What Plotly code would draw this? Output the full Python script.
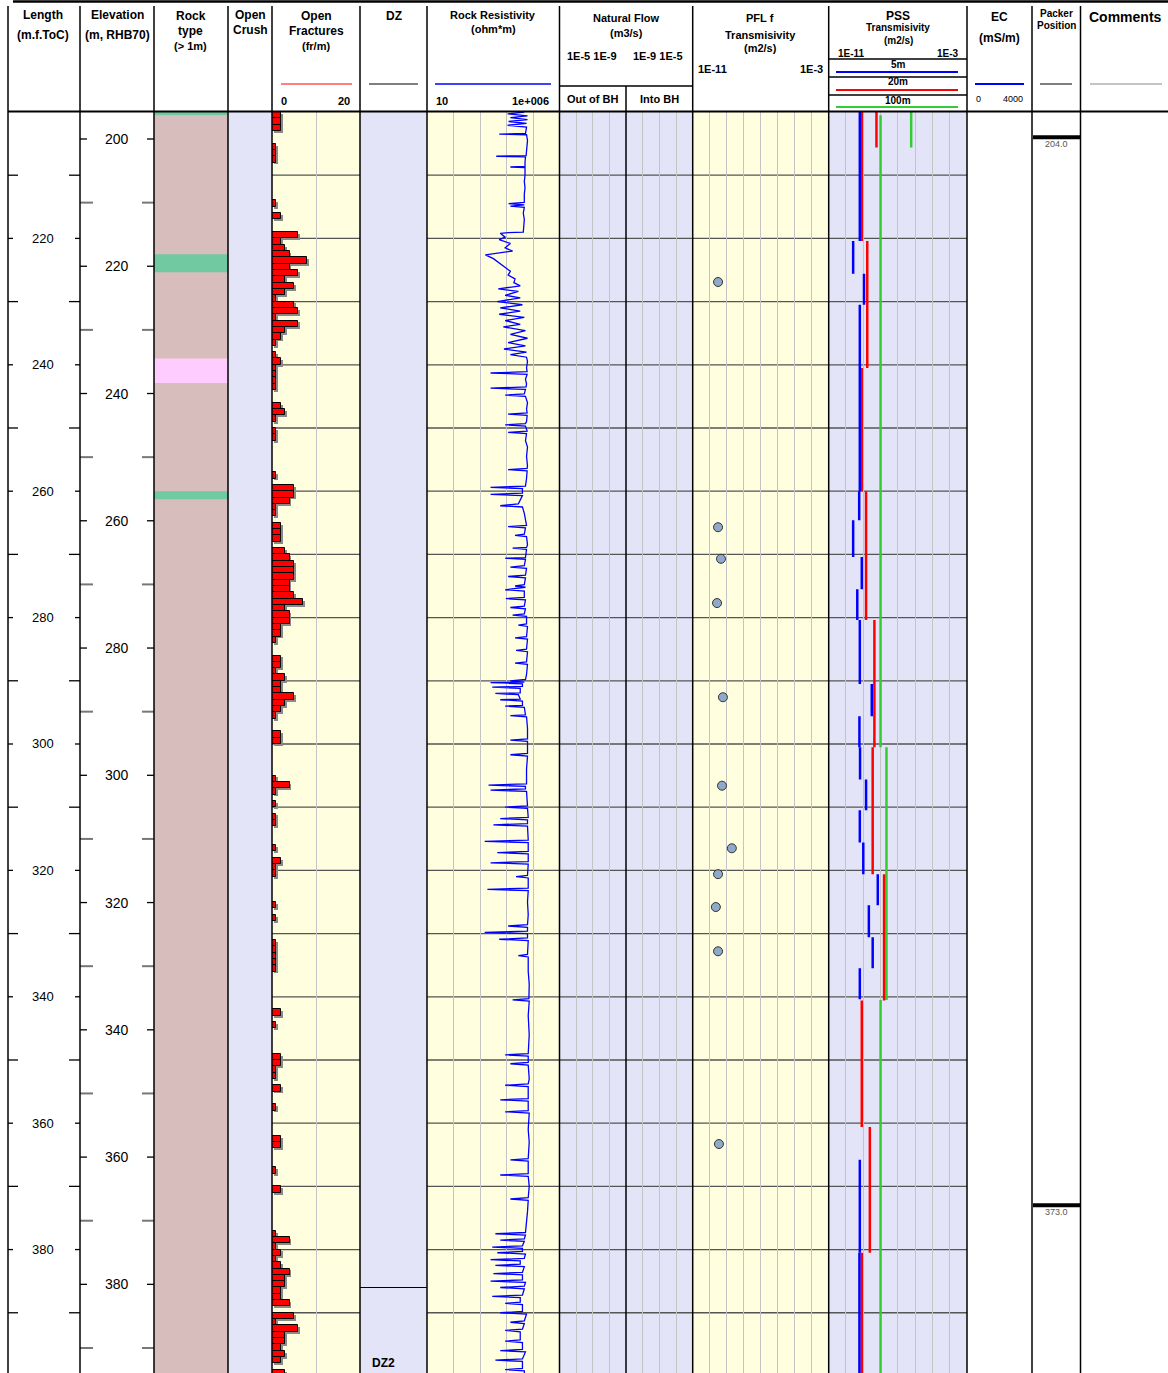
import plotly.graph_objects as go

W, H = 1168, 1373
FONT = "Liberation Sans, Arial, sans-serif"

# ---------------- data ----------------
LEN_TOP, LEN_BOTTOM = 200.0, 399.53

len_labels = list(range(220, 401, 20))
len_minor = list(range(210, 400, 20))
elev_labels = list(range(200, 381, 20))
elev_minor = list(range(210, 400, 20))
ELEV_REF_LEN, ELEV_REF, ELEV_FACTOR = 204.27, 200.0, 0.9932
grid_depths = list(range(210, 400, 10))

rock_from = [200.0, 200.5, 222.5, 225.4, 239.0, 242.9, 260.0, 261.3]
rock_to = [200.5, 222.5, 225.4, 239.0, 242.9, 260.0, 261.3, 399.6]
rock_kind = ["amphibolite", "granite", "amphibolite", "granite", "pegmatite",
             "granite", "amphibolite", "granite"]
rock_colors = {"granite": "#d8bdbd", "amphibolite": "#70c9a1", "pegmatite": "#ffccff"}

frac_depth = list(range(200, 400))
frac_count = [
    2, 2, 2, 0, 0, 1, 1, 1, 0, 0,
    0, 0, 0, 0, 1, 0, 2, 0, 0, 6,
    2, 3, 4, 8, 4, 6, 3, 5, 3, 1,
    5, 6, 1, 6, 3, 2, 1, 0, 1, 2,
    1, 1, 1, 1, 0, 0, 2, 3, 1, 0,
    1, 1, 0, 0, 0, 0, 0, 1, 0, 5,
    5, 4, 1, 1, 0, 2, 2, 2, 0, 3,
    4, 5, 5, 5, 4, 4, 5, 7, 3, 4,
    4, 2, 2, 1, 0, 0, 2, 2, 1, 3,
    2, 2, 5, 3, 2, 1, 0, 0, 2, 2,
    0, 0, 0, 0, 0, 1, 4, 1, 0, 1,
    0, 1, 1, 0, 0, 0, 1, 0, 2, 1,
    1, 0, 0, 0, 0, 1, 0, 1, 0, 0,
    0, 1, 1, 1, 1, 1, 0, 0, 0, 0,
    0, 0, 2, 0, 1, 0, 0, 0, 0, 2,
    2, 1, 1, 0, 2, 0, 0, 1, 0, 0,
    0, 0, 2, 2, 0, 0, 0, 1, 0, 0,
    2, 0, 0, 0, 0, 0, 0, 1, 4, 1,
    2, 1, 2, 4, 3, 3, 2, 2, 4, 0,
    5, 1, 6, 3, 3, 2, 3, 2, 0, 3,
]

# rock resistivity (ohm*m) read along the log
res_depth = [
    200.0, 200.3, 200.6, 200.9, 201.2, 201.5, 201.8, 202.1, 202.4, 203.0,
    203.4, 203.5, 203.6, 204.5, 205.5, 206.5, 206.9, 207.0, 207.1, 208.0,
    208.6, 208.7, 208.8, 210.0, 211.0, 212.0, 213.0, 214.3, 214.5, 214.7,
    214.9, 215.1, 216.0, 217.0, 218.0, 219.0, 219.1,
    219.2, 219.8, 220.2, 220.8, 221.5, 222.0, 222.6, 223.2, 224.0, 224.6,
    225.2, 225.8, 226.4, 227.0, 227.5, 228.0, 228.4, 229.0, 229.4, 230.0,
    230.5, 231.0, 231.5, 232.0, 232.5, 233.0, 233.6, 234.0, 234.6, 235.2,
    235.8, 236.5, 237.0, 237.5, 238.0, 238.4, 238.8, 239.5, 240.5, 241.1,
    241.3, 241.5, 242.3, 243.0, 243.5, 243.7, 243.9, 244.6, 244.8, 245.0,
    246.0, 247.0, 247.6, 247.8, 248.0, 249.0, 249.3, 249.5, 249.7, 250.5,
    250.7, 250.9, 252.0, 253.0, 254.5, 256.0, 256.4, 256.6, 256.8, 258.0,
    259.2, 259.4, 259.6, 260.3, 260.5, 260.7, 261.5, 262.0, 262.3, 262.5,
    263.5, 264.5, 265.4, 265.6, 265.8, 266.8, 267.0, 267.2, 268.5, 268.9,
    269.0, 269.2, 270.0, 270.5, 270.6, 270.8, 271.8, 272.0, 272.2, 273.3,
    273.5, 273.7, 274.8, 275.0, 275.2, 275.6, 275.8, 276.8, 277.0, 277.2,
    278.2, 278.4, 278.6, 279.4, 279.6, 279.8, 281.0, 281.2, 281.4, 283.0,
    283.2, 283.4, 285.0, 285.2, 285.4, 287.0, 287.2, 287.4, 289.0, 289.8,
    290.0, 290.2, 290.3, 290.5, 290.9, 291.0, 291.2, 291.9, 292.0, 292.2,
    292.9, 293.0, 293.2, 293.9, 294.0, 294.2, 295.4, 295.5, 295.7, 297.5,
    299.2, 299.4, 299.6, 301.5, 301.7, 301.9, 304.0, 306.3, 306.5, 306.7,
    307.1, 307.3, 307.5, 309.8, 310.0, 310.2, 311.6, 311.8, 312.0, 312.6,
    312.8, 313.0, 315.2, 315.4, 315.6, 317.0, 317.2, 317.4, 318.6, 318.8,
    319.0, 320.8, 321.0, 321.2, 322.8, 323.0, 323.2, 325.0, 327.0, 328.6,
    328.8, 329.0, 329.6, 329.8, 330.0, 330.7, 330.9, 331.1, 333.3, 333.5,
    333.7, 336.0, 338.0, 340.3, 340.5, 340.7, 343.0, 346.0, 349.0, 349.2,
    349.4, 350.4, 350.6, 350.8, 353.0, 353.8, 354.0, 354.2, 356.1, 356.3,
    356.5, 358.0, 358.2, 358.4, 361.0, 363.0, 365.6, 365.8, 366.0, 368.0,
    368.2, 368.4, 370.0, 371.8, 372.0, 372.2, 374.0, 376.0, 377.3, 377.5,
    377.7, 378.3, 378.5, 378.7, 379.4, 379.6, 379.8, 380.3, 380.5, 380.7,
    381.4, 381.6, 381.8, 382.3, 382.5, 382.7, 383.6, 383.8, 384.0, 384.8,
    385.0, 385.2, 385.8, 386.0, 386.2, 387.2, 387.4, 387.6, 388.3, 388.5,
    388.7, 389.8, 390.0, 390.2, 391.3, 391.5, 391.7, 392.6, 392.8, 393.0,
    394.3, 394.5, 394.7, 395.8, 396.0, 396.2, 397.3, 397.5, 397.7, 398.8,
    399.0, 399.2, 399.6,
]
res_ohm = [
    47000, 11000, 62000, 14000, 62000, 12000, 57000, 11000, 57000, 52000,
    52000, 5300, 57000, 62000, 60000, 55000, 55000, 4100, 52000, 50000,
    50000, 14000, 50000, 50000, 47000, 50000, 47000, 47000, 12000, 47000,
    14000, 47000, 43000, 47000, 45000, 43000, 12000,
    5800, 8900, 5300, 14000, 8900, 17000, 1600, 3200, 5800, 8900,
    14000, 11500, 21000, 19000, 33000, 4900, 28000, 8900, 33000, 4500,
    40000, 5800, 33000, 5300, 47000, 8900, 33000, 7600, 52000, 14000,
    62000, 11500, 52000, 8000, 57000, 14000, 57000, 62000, 57000, 60000,
    2500, 60000, 52000, 57000, 55000, 2500, 52000, 47000, 8900, 52000,
    62000, 57000, 60000, 11500, 60000, 57000, 52000, 8900, 52000, 60000,
    11500, 57000, 52000, 62000, 57000, 62000, 60000, 11500, 60000, 57000,
    52000, 2500, 40000, 40000, 2500, 40000, 33000, 28000, 5800, 40000,
    47000, 52000, 57000, 11500, 52000, 47000, 21000, 57000, 62000, 57000,
    17000, 57000, 52000, 52000, 8900, 52000, 47000, 14000, 57000, 52000,
    11500, 52000, 47000, 21000, 52000, 8900, 47000, 47000, 9500, 52000,
    47000, 14000, 52000, 47000, 17000, 57000, 57000, 28000, 62000, 57000,
    21000, 62000, 57000, 23000, 62000, 57000, 21000, 62000, 57000, 52000,
    14000, 47000, 2500, 40000, 40000, 2900, 33000, 33000, 3800, 28000,
    33000, 5800, 40000, 40000, 8900, 47000, 52000, 14000, 57000, 62000,
    62000, 14000, 62000, 62000, 14000, 62000, 57000, 57000, 2100, 52000,
    52000, 2500, 57000, 62000, 8900, 62000, 66000, 5800, 62000, 62000,
    3200, 62000, 66000, 1500, 66000, 66000, 4500, 66000, 66000, 2500,
    66000, 62000, 23000, 66000, 66000, 1900, 66000, 62000, 66000, 62000,
    11500, 62000, 62000, 1500, 62000, 62000, 5300, 66000, 62000, 28000,
    66000, 66000, 72000, 70000, 17000, 72000, 66000, 72000, 66000, 8900,
    66000, 66000, 14000, 66000, 72000, 66000, 8900, 66000, 66000, 5800,
    66000, 66000, 8900, 72000, 66000, 72000, 66000, 14000, 66000, 66000,
    5800, 66000, 72000, 66000, 14000, 66000, 62000, 57000, 52000, 3800,
    52000, 47000, 5800, 47000, 40000, 2900, 40000, 40000, 4500, 52000,
    47000, 2500, 33000, 33000, 3800, 47000, 40000, 3200, 40000, 40000,
    2500, 52000, 47000, 5800, 47000, 40000, 2900, 33000, 33000, 8900,
    40000, 40000, 5800, 57000, 47000, 14000, 47000, 40000, 8900, 33000,
    33000, 8900, 40000, 40000, 5800, 52000, 40000, 3800, 40000, 40000,
    8900, 47000, 47000,
]
assert len(res_depth) == len(res_ohm)

pfl_depth = [226.9, 265.7, 270.7, 277.7, 292.6, 306.6, 316.5, 320.6, 325.8, 332.8, 363.3]
pfl_T = [3.1e-10, 3.1e-10, 4.6e-10, 2.7e-10, 6.0e-10, 5.3e-10, 2.0e-9, 3.1e-10, 2.3e-10, 3.1e-10, 3.5e-10]

pss5_from = [200.0, 220.4, 225.6, 230.5, 240.5, 260.0, 264.6, 270.4, 275.5, 280.4,
             290.5, 295.6, 300.5, 305.6, 310.5, 315.6, 320.6, 325.5, 330.6, 335.5,
             365.8, 380.5]
pss5_to = [220.4, 225.6, 230.5, 240.5, 260.0, 264.6, 270.4, 275.5, 280.4, 290.5,
           295.6, 300.5, 305.6, 310.5, 315.6, 320.6, 325.5, 330.6, 335.5, 340.4,
           380.5, 399.6]
pss5_T = [6.3e-10, 2.6e-10, 1.1e-9, 6.3e-10, 6.3e-10, 5.8e-10, 2.6e-10, 8.2e-10, 4.5e-10, 6.3e-10,
          3.1e-9, 6.0e-10, 6.5e-10, 1.45e-9, 6.3e-10, 1.0e-9, 6.9e-9, 2.1e-9, 3.5e-9, 6.3e-10,
          6.3e-10, 6.0e-10]

pss20_from = [200.0, 200.0, 220.4, 240.5, 260.0, 280.4, 300.5, 320.6, 340.6, 360.6, 380.5]
pss20_to = [205.6, 220.4, 240.5, 260.0, 280.4, 300.5, 320.6, 340.6, 360.6, 380.5, 399.6]
pss20_T = [5.8e-9, 8.2e-10, 1.7e-9, 8.2e-10, 1.45e-9, 4.4e-9, 3.5e-9, 1.6e-8, 8.2e-10, 2.4e-9, 8.2e-10]

pss100_from = [200.0, 200.5, 300.5, 340.5]
pss100_to = [205.6, 300.5, 340.5, 399.6]
pss100_T = [5.9e-7, 1.0e-8, 2.2e-8, 1.0e-8]

packer_depth = [204.0, 373.0]
dz_boundary = [386.0]
dz_label = "DZ2"

# ---------------- colours ----------------
LAV = "#e4e4f8"
YEL = "#ffffe0"
GRID = "#c4c4c4"

shapes = []
annotations = []


def pxx(x):
    return x / W


def pxy(y):
    return 1 - y / H


def pline(x0, x1, y0, y1, color="black", width=1.0, layer="above"):
    shapes.append(dict(type="line", xref="paper", yref="paper",
                       x0=pxx(x0), x1=pxx(x1), y0=pxy(y0), y1=pxy(y1),
                       line=dict(color=color, width=width), layer=layer))


def prect(x0, x1, y0, y1, fill, layer="below"):
    shapes.append(dict(type="rect", xref="paper", yref="paper",
                       x0=pxx(x0), x1=pxx(x1), y0=pxy(y0), y1=pxy(y1),
                       fillcolor=fill, line=dict(width=0), layer=layer))


def dline(x0, x1, depth, color="black", width=1.0, yref="y", layer="above"):
    shapes.append(dict(type="line", xref="paper", yref=yref,
                       x0=pxx(x0), x1=pxx(x1), y0=depth, y1=depth,
                       line=dict(color=color, width=width), layer=layer))


def ann(text, x, y, size=12, bold=True, color="black", yref="paper", xanchor="center",
        yanchor="middle", yshift=0):
    annotations.append(dict(
        text=("<b>%s</b>" % text) if bold else text,
        x=pxx(x), y=pxy(y) if yref == "paper" else y,
        xref="paper", yref=yref, showarrow=False,
        xanchor=xanchor, yanchor=yanchor, yshift=yshift,
        font=dict(family=FONT, size=size, color=color)))


HEAD_BOT = 112
DATA_TOP = HEAD_BOT

# column backgrounds
prect(154, 228, DATA_TOP, H, rock_colors["granite"])
prect(228, 272, DATA_TOP, H, LAV)
prect(272, 360, DATA_TOP, H, YEL)
prect(360, 427, DATA_TOP, H, LAV)
prect(427, 559.5, DATA_TOP, H, YEL)
prect(559.5, 692.7, DATA_TOP, H, LAV)
prect(692.7, 828.7, DATA_TOP, H, YEL)
prect(828.7, 967, DATA_TOP, H, LAV)

# rock type intervals (data depths)
for f, t, k in zip(rock_from, rock_to, rock_kind):
    shapes.append(dict(type="rect", xref="paper", yref="y", x0=pxx(154), x1=pxx(228),
                       y0=f, y1=t, fillcolor=rock_colors[k], line=dict(width=0), layer="below"))

# horizontal 10 m grid lines
for d in grid_depths:
    dline(272, 360, d, color="#555555", width=1.3, layer="below")
    dline(427, 967, d, color="#555555", width=1.3, layer="below")

# length ticks & labels
for d in len_labels:
    dline(8, 13, d, width=1.3)
    dline(75, 80, d, width=1.3)
    ann(str(d), 43, d, size=13, bold=False, yref="y")
for d in len_minor:
    dline(8, 18, d, width=1.3)
    dline(69, 80, d, width=1.3)

# elevation ticks & labels (on elevation axis y2)
for e in elev_labels:
    dline(80, 87, e, width=1.3, yref="y2")
    dline(147, 154, e, width=1.3, yref="y2")
    ann(str(e), 117, e, size=14, bold=False, yref="y2")
for e in elev_minor:
    dline(80, 93, e, color="#777777", width=2, yref="y2")
    dline(142, 154, e, color="#777777", width=2, yref="y2")

# DZ boundary and label
for d in dz_boundary:
    dline(360, 427, d, width=1.2)
ann(dz_label, 383, 1372, size=12, yanchor="bottom")

# packer positions
for d in packer_depth:
    dline(1033, 1080, d, width=4)
    ann("%.1f" % d, 1056, d, size=9, bold=False, color="#555555", yref="y", yshift=-7)

# column borders
for x in [8, 80, 154, 228, 272, 360, 427, 559.5, 692.7, 828.7, 967, 1032, 1080.5]:
    pline(x, x, 6, H, width=1.5)
pline(626, 626, 86, H, width=1.5)
pline(13, W, 1.5, 1.5, width=2.5)
pline(8, W, 111.5, 111.5, width=2)
pline(559.5, 692.7, 86, 86, width=1.5)
for y in [59, 77, 95]:
    pline(828.7, 967, y, y, width=1.5)

# header legend lines
pline(281, 352, 84, 84, color="red", width=1)
pline(369, 418, 84, 84, color="black", width=1)
pline(435, 551, 84, 84, color="blue", width=1.5)
pline(975, 1024, 84, 84, color="blue", width=2)
pline(1040, 1072, 84, 84, color="black", width=1)
pline(1090, 1162, 84, 84, color="#888888", width=1)
pline(836, 958, 72, 72, color="blue", width=2)
pline(836, 958, 90, 90, color="red", width=2)
pline(836, 958, 107, 107, color="#33cc33", width=2)

# header texts
for txt, x, y, s in [
    ("Length", 43, 15, 12), ("(m.f.ToC)", 43, 35, 12),
    ("Elevation", 117, 15, 12), ("(m, RHB70)", 117, 35, 12),
    ("Rock", 191, 16, 12), ("type", 191, 31, 12), ("(&gt; 1m)", 191, 46, 11),
    ("Open", 250, 15, 12), ("Crush", 250, 30, 12),
    ("Open", 316, 16, 12), ("Fractures", 316, 31, 12), ("(fr/m)", 316, 46, 11),
    ("DZ", 394, 16, 12),
    ("Rock Resistivity", 493, 15, 11), ("(ohm*m)", 493, 29, 11),
    ("0", 284, 101, 11), ("20", 344, 101, 11),
    ("10", 442, 101, 11), ("1e+006", 530, 101, 11),
    ("Natural Flow", 626, 18, 11), ("(m3/s)", 626, 33, 11),
    ("1E-5 1E-9", 592, 56, 11), ("1E-9 1E-5", 658, 56, 11),
    ("Out of BH", 592, 99, 11), ("Into BH", 659, 99, 11),
    ("PFL f", 760, 18, 11), ("Transmisivity", 760, 35, 11), ("(m2/s)", 760, 48, 11),
    ("1E-11", 712, 69, 11), ("1E-3", 811, 69, 11),
    ("PSS", 898, 16, 12), ("Transmisivity", 898, 28, 10), ("(m2/s)", 898, 40, 10),
    ("1E-11", 851, 53, 10), ("1E-3", 948, 53, 10),
    ("5m", 898, 64, 10), ("20m", 898, 82, 10), ("100m", 898, 100, 10),
    ("EC", 999, 17, 12), ("(mS/m)", 999, 38, 12),
    ("Packer", 1056, 13, 10), ("Position", 1056, 25, 10),
    ("Comments", 1125, 17, 14),
]:
    ann(txt, x, y, size=s)
ann("0", 978, 99, size=9, bold=False)
ann("4000", 1013, 99, size=9, bold=False)


# ---------------- traces ----------------
def seg(froms, tos, vals):
    xs, ys = [], []
    for f, t, v in zip(froms, tos, vals):
        xs += [v, v, None]
        ys += [f, t, None]
    return xs, ys


fig = go.Figure()
frac_mid = [d + 0.5 for d in frac_depth]
# drop shadow of the fracture bars
fig.add_trace(go.Bar(x=frac_count, y=frac_mid, base=0.4, orientation="h", width=1, offset=-0.2,
                     marker=dict(color="#8a8a8a", line=dict(width=0)),
                     xaxis="x", yaxis="y"))
fig.add_trace(go.Bar(x=frac_count, y=frac_mid, orientation="h", width=1, offset=-0.5,
                     marker=dict(color="#ff0000", line=dict(color="black", width=1)),
                     xaxis="x", yaxis="y"))
fig.add_trace(go.Scatter(x=res_ohm, y=res_depth, mode="lines",
                         line=dict(color="#0000ff", width=1.3), xaxis="x2", yaxis="y"))
fig.add_trace(go.Scatter(x=[None], y=[None], xaxis="x3", yaxis="y"))
fig.add_trace(go.Scatter(x=[None], y=[None], xaxis="x4", yaxis="y"))
fig.add_trace(go.Scatter(x=pfl_T, y=pfl_depth, mode="markers",
                         marker=dict(size=9, color="#8faac8", line=dict(color="#333333", width=1)),
                         xaxis="x5", yaxis="y"))
for fr, to, vals, col in [(pss100_from, pss100_to, pss100_T, "#33cc33"),
                          (pss20_from, pss20_to, pss20_T, "#ff0000"),
                          (pss5_from, pss5_to, pss5_T, "#0000ff")]:
    xs, ys = seg(fr, to, vals)
    fig.add_trace(go.Scatter(x=xs, y=ys, mode="lines", line=dict(color=col, width=2.5),
                             xaxis="x6", yaxis="y"))
fig.add_trace(go.Scatter(x=[None], y=[None], xaxis="x7", yaxis="y2"))

ydom = [0, pxy(DATA_TOP)]


def xax(x0, x1, **kw):
    d = dict(domain=[pxx(x0), pxx(x1)], anchor="y", showticklabels=False, ticks="",
             zeroline=False, showline=False, showgrid=True, gridcolor=GRID, gridwidth=1.3,
             fixedrange=True)
    d.update(kw)
    return d


def elev_of_len(L):
    return ELEV_REF + (L - ELEV_REF_LEN) * ELEV_FACTOR


fig.update_layout(
    width=W, height=H, margin=dict(l=0, r=0, t=0, b=0),
    paper_bgcolor="white", plot_bgcolor="rgba(0,0,0,0)", showlegend=False,
    barmode="overlay",
    xaxis=xax(272, 360, range=[0, 20], dtick=10),
    xaxis2=xax(427, 559.5, type="log", range=[1, 6], dtick=1),
    xaxis3=xax(559.5, 626, type="log", range=[-5, -9], dtick=1),
    xaxis4=xax(626, 692.7, type="log", range=[-9, -5], dtick=1),
    xaxis5=xax(692.7, 828.7, type="log", range=[-11, -3], dtick=1),
    xaxis6=xax(828.7, 967, type="log", range=[-11, -3], dtick=1),
    xaxis7=xax(80, 154, range=[0, 1], showgrid=False, anchor="y2"),
    yaxis=dict(domain=ydom, range=[LEN_BOTTOM, LEN_TOP], visible=False, showgrid=False,
               zeroline=False, fixedrange=True),
    yaxis2=dict(domain=ydom, range=[elev_of_len(LEN_BOTTOM), elev_of_len(LEN_TOP)],
                visible=False, showgrid=False, zeroline=False, anchor="x7", fixedrange=True),
    shapes=shapes, annotations=annotations, bargap=0,
)

fig.write_html("out.html", config={"displayModeBar": False},
               post_script="document.body.style.margin='0';")
